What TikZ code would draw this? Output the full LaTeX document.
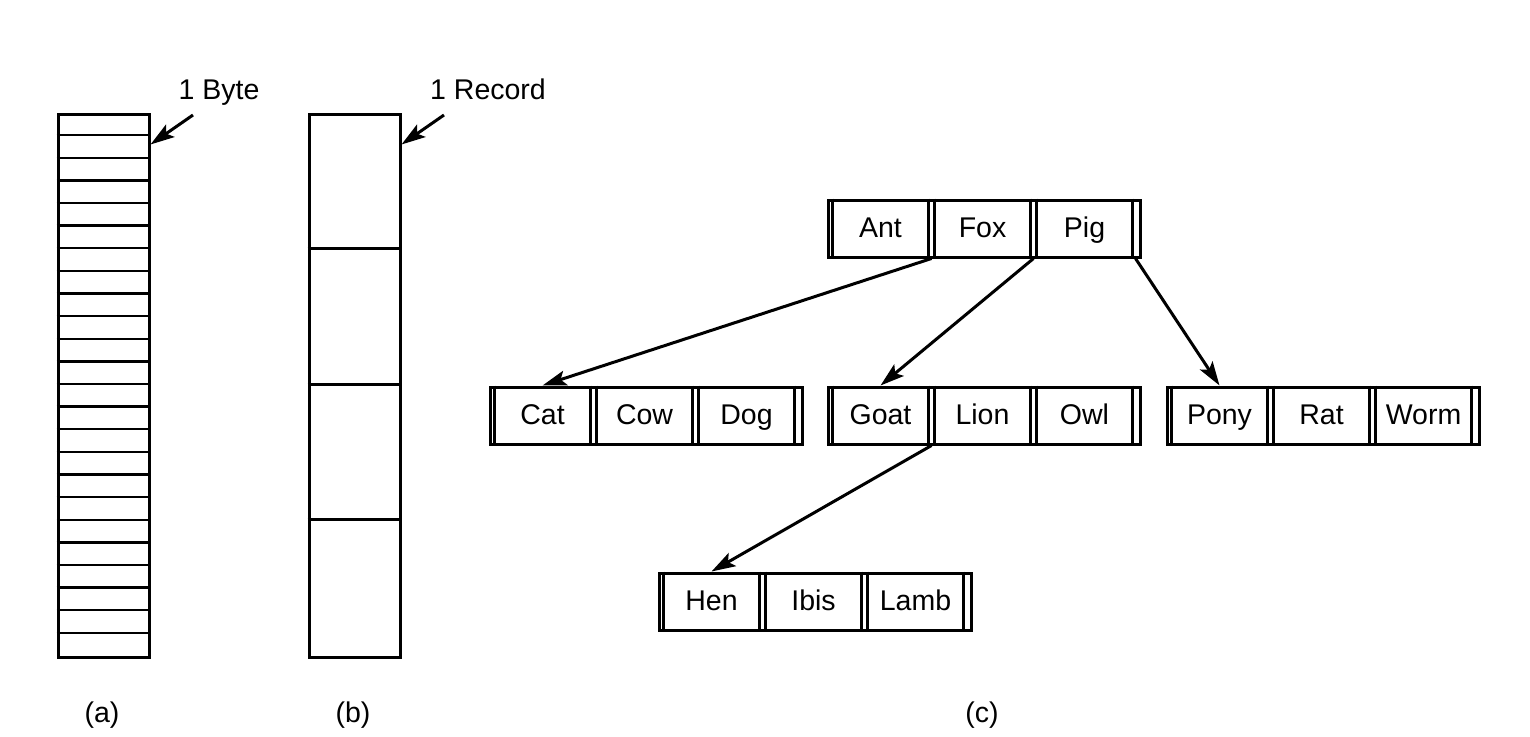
\documentclass[tikz,border=0pt]{standalone}
\usepackage{fontspec}
\setmainfont{Liberation Sans}
\usetikzlibrary{arrows.meta}
\tikzset{
  ln/.style={line width=3pt},
  thinln/.style={line width=2.4pt},
  bt/.style={draw, line width=3pt, minimum width=312pt, minimum height=57pt, inner sep=0pt},
  lbl/.style={font=\fontsize{28.5}{32}\selectfont, inner sep=0pt},
  ptr/.style={line width=3pt, -{Stealth[length=24pt,width=15pt,inset=5pt]}},
}
\newcommand\btnode[6]{%
  \node[bt] (#1) at (#2+156,#3+28.5) {};
  \foreach \k in {6,102,108,204,210,306}
    \draw[ln] ([xshift=\k pt]#1.north west) -- ([xshift=\k pt]#1.south west);
  \node[lbl, anchor=base] (#1-1) at ([xshift=54pt,yshift=-38.5pt]#1.north west) {#4};
  \node[lbl, anchor=base] (#1-2) at ([xshift=156pt,yshift=-38.5pt]#1.north west) {#5};
  \node[lbl, anchor=base] (#1-3) at ([xshift=258pt,yshift=-38.5pt]#1.north west) {#6};
}
\begin{document}
\begin{tikzpicture}[x=1pt,y=-1pt]
\useasboundingbox (0,0) rectangle (1530,736);

% (a) byte sequence
\node[draw, ln, minimum width=91pt, minimum height=543pt, inner sep=0pt] (bytes) at (103.5,385.5) {};
\foreach \i in {1,...,23}
  \draw[thinln] ([yshift=-\i*22.625pt]bytes.north west) -- ([yshift=-\i*22.625pt]bytes.north east);
\node[lbl, anchor=base] (bytelbl) at (219,99) {1 Byte};
\coordinate (bytetail) at (193,115);
\draw[ptr] (bytetail) -- ([yshift=-32pt]bytes.north east);
\node[lbl, anchor=base] (lbla) at (102,722) {(a)};

% (b) record sequence
\node[draw, ln, minimum width=91pt, minimum height=543pt, inner sep=0pt] (recs) at (354.5,385.5) {};
\foreach \i in {1,2,3}
  \draw[ln] ([yshift=-\i*135.75pt]recs.north west) -- ([yshift=-\i*135.75pt]recs.north east);
\node[lbl, anchor=base] (reclbl) at (488,99) {1 Record};
\coordinate (rectail) at (444,115);
\draw[ptr] (rectail) -- ([yshift=-32pt]recs.north east);
\node[lbl, anchor=base] (lblb) at (353,722) {(b)};

% (c) tree
\btnode{root}{828}{200}{Ant}{Fox}{Pig}
\btnode{cat}{490}{387}{Cat}{Cow}{Dog}
\btnode{goat}{828}{387}{Goat}{Lion}{Owl}
\btnode{pony}{1167}{387}{Pony}{Rat}{Worm}
\btnode{hen}{659}{573}{Hen}{Ibis}{Lamb}

\draw[ptr] ([xshift=105pt]root.south west) -- (cat-1 |- cat.north);
\draw[ptr] ([xshift=207pt]root.south west) -- (goat-1 |- goat.north);
\draw[ptr] ([xshift=309pt]root.south west) -- (pony-1 |- pony.north);
\draw[ptr] ([xshift=105pt]goat.south west) -- (hen-1 |- hen.north);

\node[lbl, anchor=base] (lblc) at (982,722) {(c)};
\end{tikzpicture}
\end{document}
